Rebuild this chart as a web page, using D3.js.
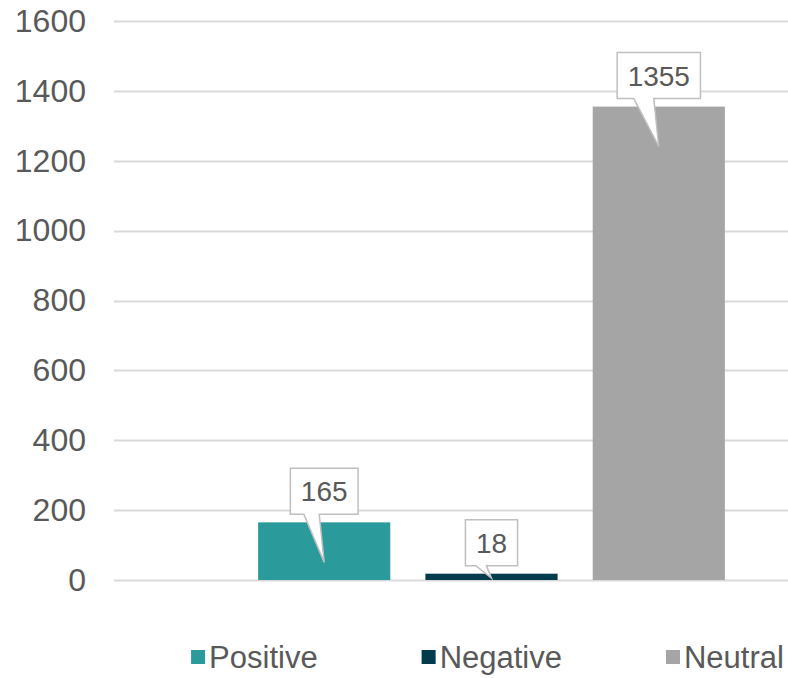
<!DOCTYPE html>
<html>
<head>
<meta charset="utf-8">
<script src="https://cdn.jsdelivr.net/npm/d3@7"></script>
<style>
  html, body { margin: 0; padding: 0; background: #fff; }
  svg { display: block; font-family: "Liberation Sans", Arial, sans-serif; }
</style>
</head>
<body>
<svg id="chart" width="788" height="678"></svg>
<script>
// Sentiment counts
const categories = ["Positive", "Negative", "Neutral"];
const counts = [165, 18, 1355];
const colors = ["#2a9a9b", "#003c4b", "#a5a5a5"];
const yTicks = [0, 200, 400, 600, 800, 1000, 1200, 1400, 1600];

const svg = d3.select("#chart");
const textColor = "#595959";

const y = d3.scaleLinear().domain([0, 1600]).range([580, 21]);
const x = d3.scaleBand().domain(categories).range([223, 760]).padding(0.21);

// Gridlines
svg.append("g")
  .selectAll("line")
  .data(yTicks)
  .join("line")
  .attr("x1", 114).attr("x2", 788)
  .attr("y1", d => Math.round(y(d)) + 0.5)
  .attr("y2", d => Math.round(y(d)) + 0.5)
  .attr("stroke", "#d9d9d9")
  .attr("stroke-width", 2);

// Y axis labels
const yAxis = d3.axisLeft(y).tickValues(yTicks).tickFormat(d3.format("d")).tickSize(0).tickPadding(0);
const gy = svg.append("g").attr("transform", "translate(86,0)").call(yAxis);
gy.select(".domain").remove();
gy.selectAll("text")
  .attr("fill", textColor)
  .style("font-size", "32px")
  .style("font-family", "'Liberation Sans', Arial, sans-serif");

// Bars
const rows = categories.map((c, i) => ({ c, v: counts[i], color: colors[i] }));
svg.append("g")
  .selectAll("rect")
  .data(rows)
  .join("rect")
  .attr("x", d => x(d.c))
  .attr("width", x.bandwidth())
  .attr("y", d => y(d.v))
  .attr("height", d => y(0) - y(d.v))
  .attr("fill", d => d.color);

// Callout data labels
const labels = svg.append("g");
rows.forEach(d => {
  const cx = x(d.c) + x.bandwidth() / 2;
  const top = y(d.v);
  const barH = y(0) - top;
  const g = labels.append("g");
  const path = g.append("path");
  const t = g.append("text")
    .attr("text-anchor", "middle")
    .attr("fill", textColor)
    .style("font-size", "28px")
    .text(d.v);
  const tw = t.node().getComputedTextLength();
  const w = tw + 21, h = 46;
  const bottom = top - 8, boxTop = bottom - h;
  const left = cx - w / 2, right = cx + w / 2;
  const tipY = top + Math.min(40, barH * 0.7);
  const b1 = cx - w * 0.3, b2 = cx - 5;
  path.attr("d", `M${left},${boxTop}H${right}V${bottom}H${b2}L${cx},${tipY}L${b1},${bottom}H${left}Z`)
    .attr("fill", "#fff")
    .attr("stroke", "#bfbfbf")
    .attr("stroke-width", 1.5)
    .attr("stroke-linejoin", "miter");
  t.attr("x", cx).attr("y", (boxTop + bottom) / 2 + 10);
});

// Legend
const legend = svg.append("g");
const items = rows.map(d => {
  const g = legend.append("g");
  g.append("rect").attr("width", 14).attr("height", 14).attr("y", -7).attr("fill", d.color);
  const t = g.append("text")
    .attr("x", 18).attr("y", 10.5)
    .attr("fill", textColor)
    .style("font-size", "31px")
    .text(d.c);
  return { g, w: 18 + t.node().getComputedTextLength() };
});
const gap = 104;
const total = d3.sum(items, d => d.w) + gap * (items.length - 1);
let lx = 487.5 - total / 2;
items.forEach(it => {
  it.g.attr("transform", `translate(${lx},657)`);
  lx += it.w + gap;
});
</script>
</body>
</html>
